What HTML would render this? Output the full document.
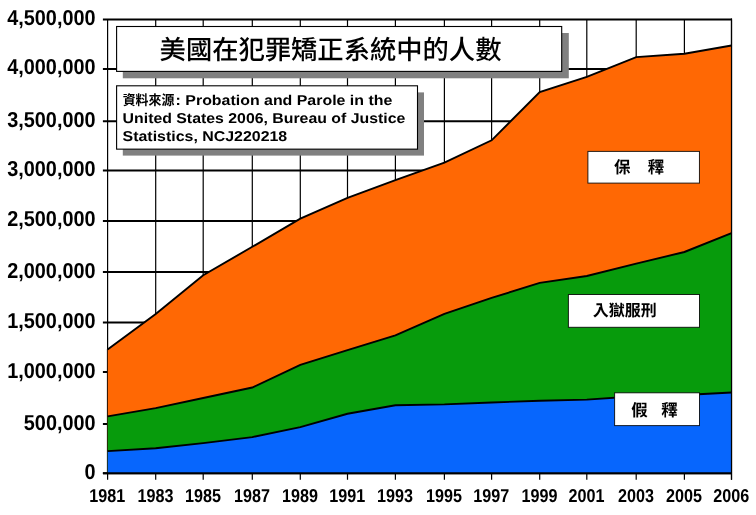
<!DOCTYPE html>
<html lang="zh-Hant"><head><meta charset="utf-8"><title>美國在犯罪矯正系統中的人數</title>
<style>
html,body{margin:0;padding:0;background:#fff;}
body{width:756px;height:515px;overflow:hidden;}
svg{display:block}
text{font-family:"Liberation Sans","Noto Sans CJK TC",sans-serif;fill:#000;text-rendering:geometricPrecision}
.yl{font-size:21.6px;font-weight:bold;text-anchor:end}
.xl{font-size:18.7px;font-weight:bold;text-anchor:middle}
.src{font-size:14.2px;font-weight:bold}
.srcc{font-size:13.9px;font-weight:bold}
.ttl{font-size:26.3px;font-weight:500}
.lab{font-size:16.5px;font-weight:bold;text-anchor:middle}
</style></head><body>
<svg width="756" height="515" viewBox="0 0 756 515">
<rect width="756" height="515" fill="#fff"/>

<g stroke="#000" stroke-width="1.2">
<line x1="107.6" y1="19.5" x2="107.6" y2="479.8"/>
<line x1="155.7" y1="19.5" x2="155.7" y2="479.8"/>
<line x1="203.2" y1="19.5" x2="203.2" y2="479.8"/>
<line x1="252.3" y1="19.5" x2="252.3" y2="479.8"/>
<line x1="300.3" y1="19.5" x2="300.3" y2="479.8"/>
<line x1="347.5" y1="19.5" x2="347.5" y2="479.8"/>
<line x1="395.4" y1="19.5" x2="395.4" y2="479.8"/>
<line x1="444.4" y1="19.5" x2="444.4" y2="479.8"/>
<line x1="491.6" y1="19.5" x2="491.6" y2="479.8"/>
<line x1="539.7" y1="19.5" x2="539.7" y2="479.8"/>
<line x1="586.8" y1="19.5" x2="586.8" y2="479.8"/>
<line x1="636.2" y1="19.5" x2="636.2" y2="479.8"/>
<line x1="684.4" y1="19.5" x2="684.4" y2="479.8"/>
<line x1="731.5" y1="19.5" x2="731.5" y2="479.8"/>
</g>
<g stroke="#000" stroke-width="2">
<line x1="102.9" y1="19.5" x2="732" y2="19.5"/>
<line x1="102.9" y1="69.0" x2="732" y2="69.0"/>
<line x1="102.9" y1="121.2" x2="732" y2="121.2"/>
<line x1="102.9" y1="170.4" x2="732" y2="170.4"/>
<line x1="102.9" y1="220.9" x2="732" y2="220.9"/>
<line x1="102.9" y1="272.1" x2="732" y2="272.1"/>
<line x1="102.9" y1="322.4" x2="732" y2="322.4"/>
<line x1="102.9" y1="371.9" x2="732" y2="371.9"/>
<line x1="102.9" y1="424.1" x2="732" y2="424.1"/>
<line x1="102.9" y1="473.3" x2="732" y2="473.3"/>
</g>
<path d="M107.6,473.3 L107.6,349.5 L155.7,314.1 L203.2,275.2 L252.3,246.8 L300.3,218.7 L347.5,197.8 L395.4,180.2 L444.4,162.7 L491.6,140.3 L539.7,92.0 L586.8,76.9 L636.2,57.1 L684.4,53.8 L731.5,45.5 L731.5,473.3 Z" fill="#ff6804"/>
<path d="M107.6,349.5 L155.7,314.1 L203.2,275.2 L252.3,246.8 L300.3,218.7 L347.5,197.8 L395.4,180.2 L444.4,162.7 L491.6,140.3 L539.7,92.0 L586.8,76.9 L636.2,57.1 L684.4,53.8 L731.5,45.5" fill="none" stroke="#000" stroke-width="1.9"/>
<path d="M107.6,473.3 L107.6,416.4 L155.7,408.1 L203.2,398.0 L252.3,387.5 L300.3,364.9 L347.5,350.2 L395.4,335.4 L444.4,313.8 L491.6,297.9 L539.7,282.9 L586.8,276.0 L636.2,263.7 L684.4,252.0 L731.5,233.1 L731.5,473.3 Z" fill="#079b0c"/>
<path d="M107.6,416.4 L155.7,408.1 L203.2,398.0 L252.3,387.5 L300.3,364.9 L347.5,350.2 L395.4,335.4 L444.4,313.8 L491.6,297.9 L539.7,282.9 L586.8,276.0 L636.2,263.7 L684.4,252.0 L731.5,233.1" fill="none" stroke="#000" stroke-width="1.9"/>
<path d="M107.6,473.3 L107.6,451.1 L155.7,448.3 L203.2,443.1 L252.3,437.1 L300.3,427.2 L347.5,413.8 L395.4,405.2 L444.4,404.4 L491.6,402.5 L539.7,400.8 L586.8,399.6 L636.2,396.2 L684.4,395.0 L731.5,392.5 L731.5,473.3 Z" fill="#0766fd"/>
<path d="M107.6,451.1 L155.7,448.3 L203.2,443.1 L252.3,437.1 L300.3,427.2 L347.5,413.8 L395.4,405.2 L444.4,404.4 L491.6,402.5 L539.7,400.8 L586.8,399.6 L636.2,396.2 L684.4,395.0 L731.5,392.5" fill="none" stroke="#000" stroke-width="1.9"/>
<g stroke="#000">
<line x1="102.9" y1="473.3" x2="732" y2="473.3" stroke-width="2"/>
<line x1="107.3" y1="349" x2="107.3" y2="473" stroke-width="0.7" stroke-opacity="0.75"/>
<line x1="731.5" y1="18.5" x2="731.5" y2="479.8" stroke-width="1.2"/>
</g>
<text class="yl" transform="translate(95.6,24.7) scale(0.92,1)">4,500,000</text>
<text class="yl" transform="translate(95.6,74.3) scale(0.92,1)">4,000,000</text>
<text class="yl" transform="translate(95.6,126.6) scale(0.92,1)">3,500,000</text>
<text class="yl" transform="translate(95.6,175.8) scale(0.92,1)">3,000,000</text>
<text class="yl" transform="translate(95.6,226.4) scale(0.92,1)">2,500,000</text>
<text class="yl" transform="translate(95.6,277.7) scale(0.92,1)">2,000,000</text>
<text class="yl" transform="translate(95.6,328.1) scale(0.92,1)">1,500,000</text>
<text class="yl" transform="translate(95.6,377.7) scale(0.92,1)">1,000,000</text>
<text class="yl" transform="translate(95.6,430.0) scale(0.92,1)">500,000</text>
<text class="yl" transform="translate(95.6,479.2) scale(0.92,1)">0</text>
<text class="xl" transform="translate(107.3,501.8) scale(0.865,1)">1981</text>
<text class="xl" transform="translate(155.4,501.8) scale(0.865,1)">1983</text>
<text class="xl" transform="translate(202.9,501.8) scale(0.865,1)">1985</text>
<text class="xl" transform="translate(252.0,501.8) scale(0.865,1)">1987</text>
<text class="xl" transform="translate(300.0,501.8) scale(0.865,1)">1989</text>
<text class="xl" transform="translate(347.2,501.8) scale(0.865,1)">1991</text>
<text class="xl" transform="translate(395.1,501.8) scale(0.865,1)">1993</text>
<text class="xl" transform="translate(444.1,501.8) scale(0.865,1)">1995</text>
<text class="xl" transform="translate(491.3,501.8) scale(0.865,1)">1997</text>
<text class="xl" transform="translate(539.4,501.8) scale(0.865,1)">1999</text>
<text class="xl" transform="translate(586.5,501.8) scale(0.865,1)">2001</text>
<text class="xl" transform="translate(635.9,501.8) scale(0.865,1)">2003</text>
<text class="xl" transform="translate(684.1,501.8) scale(0.865,1)">2005</text>
<text class="xl" transform="translate(731.2,501.8) scale(0.865,1)">2006</text>
<rect x="122.8" y="33" width="446" height="45.3" fill="#808080"/>
<rect x="116.6" y="26.5" width="445.1" height="44.9" fill="#fff" stroke="#000" stroke-width="1.1"/>
<text class="ttl" x="159.6" y="59.2">美國在犯罪矯正系統中的人數</text>
<rect x="122.8" y="92.4" width="301.2" height="63.2" fill="#808080"/>
<rect x="116.6" y="85.8" width="300.9" height="63.35" fill="#fff" stroke="#000" stroke-width="1.1"/>
<text class="srcc" transform="translate(122.7,105.3) scale(0.93,1)">資料來源</text>
<text class="src" transform="translate(175.6,105.0) scale(1.122,1)" xml:space="preserve">: Probation and Parole in the</text>
<text class="src" transform="translate(122.6,122.6) scale(1.117,1)">United States 2006, Bureau of Justice</text>
<text class="src" transform="translate(122.6,140.8) scale(1.122,1)">Statistics, NCJ220218</text>
<rect x="587.90" y="151.40" width="111.55" height="31.70" fill="#fff" stroke="#000" stroke-opacity="0.85" stroke-width="1.0"/>
<text class="lab" style="font-size:16.5px" x="622.3" y="173.0">保</text>
<text class="lab" style="font-size:16.5px" x="655.9" y="173.0">釋</text>
<rect x="568.40" y="294.50" width="131.10" height="32.80" fill="#fff" stroke="#000" stroke-opacity="0.85" stroke-width="1.0"/>
<text class="lab" style="font-size:16.0px" x="624.8" y="316.2">入獄服刑</text>
<rect x="614.60" y="392.80" width="84.90" height="32.80" fill="#fff" stroke="#000" stroke-opacity="0.85" stroke-width="1.0"/>
<text class="lab" style="font-size:16.5px" x="639.4" y="415.9">假</text>
<text class="lab" style="font-size:16.5px" x="669.5" y="415.9">釋</text>
</svg></body></html>
